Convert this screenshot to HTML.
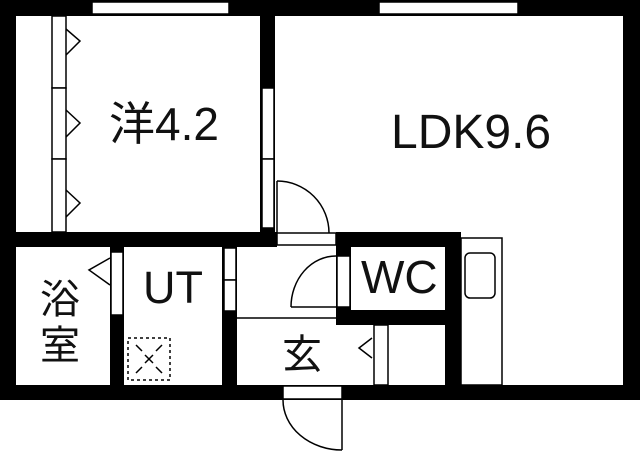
<!DOCTYPE html>
<html><head><meta charset="utf-8"><style>
html,body{margin:0;padding:0;background:#fff;}
svg{display:block;}
text{font-family:"Liberation Sans","Noto Sans CJK JP",sans-serif;fill:#111;}
</style></head><body>
<svg width="640" height="452" viewBox="0 0 640 452" xmlns="http://www.w3.org/2000/svg">
<rect width="640" height="452" fill="#fff"/>
<g fill="#000">
<rect x="0" y="0" width="640" height="16"/>
<rect x="0" y="0" width="16" height="400"/>
<rect x="623" y="0" width="17" height="400"/>
<rect x="0" y="385" width="640" height="15"/>
<rect x="260" y="0" width="15" height="232"/>
<rect x="0" y="232" width="277" height="15"/>
<rect x="110" y="232" width="14" height="168"/>
<rect x="222" y="232" width="15" height="168"/>
<rect x="336" y="232" width="125" height="15"/>
<rect x="336" y="232" width="15" height="93"/>
<rect x="336" y="310" width="125" height="15"/>
<rect x="445" y="232" width="16" height="168"/>
</g>
<g fill="#fff" stroke="#000" stroke-width="1.5">
<rect x="92" y="2" width="137" height="12"/>
<rect x="379" y="2" width="139" height="12"/>
<rect x="52" y="16" width="14" height="72"/>
<rect x="52" y="88" width="14" height="71"/>
<rect x="52" y="159" width="14" height="73"/>
<rect x="262" y="88" width="12" height="71"/>
<rect x="262" y="159" width="12" height="69"/>
<rect x="277" y="233" width="59" height="12"/>
<rect x="111" y="252" width="12" height="63"/>
<rect x="224" y="248" width="12" height="32"/>
<rect x="224" y="280" width="12" height="31"/>
<rect x="337" y="256" width="13" height="51"/>
<rect x="374" y="325" width="14" height="60"/>
<rect x="461" y="238" width="41" height="147"/>
<rect x="465" y="253" width="30" height="45" rx="5"/>
<rect x="283" y="386" width="59" height="13"/>
</g>
<g fill="none" stroke="#000" stroke-width="1.5">
<polyline points="66,29 80,41 66,55"/>
<polyline points="66,110 80,123 66,137"/>
<polyline points="66,190 80,203 66,217"/>
<line x1="277" y1="181" x2="277" y2="233"/>
<path d="M277,181 A52,52 0 0 1 329,233"/>
<line x1="237" y1="318" x2="336" y2="318"/>
<line x1="291" y1="307" x2="336" y2="307"/>
<path d="M291,307 A45,51 0 0 1 336,256"/>
<polyline points="110,258 89,270 110,285"/>
<polyline points="372,338 359,348 372,358"/>
<line x1="342" y1="400" x2="342" y2="450"/>
<path d="M283,400 A59,50 0 0 0 342,450"/>
</g>
<rect x="128" y="338" width="42" height="42" fill="none" stroke="#000" stroke-width="1.5" stroke-dasharray="3,3"/>
<path d="M136,345 L142,351 M162,345 L156,351 M136,373 L142,367 M162,373 L156,367 M145,355 L153,363 M153,355 L145,363" stroke="#000" stroke-width="1.5"/>
<text x="109" y="140" font-size="46">洋4.2</text>
<text x="391" y="148" font-size="48">LDK9.6</text>
<text x="40" y="313" font-size="40">浴</text>
<text x="40" y="359" font-size="40">室</text>
<text x="143" y="303" font-size="45">UT</text>
<text x="361" y="293" font-size="46">WC</text>
<text x="282" y="368" font-size="40">玄</text>
</svg>
</body></html>
